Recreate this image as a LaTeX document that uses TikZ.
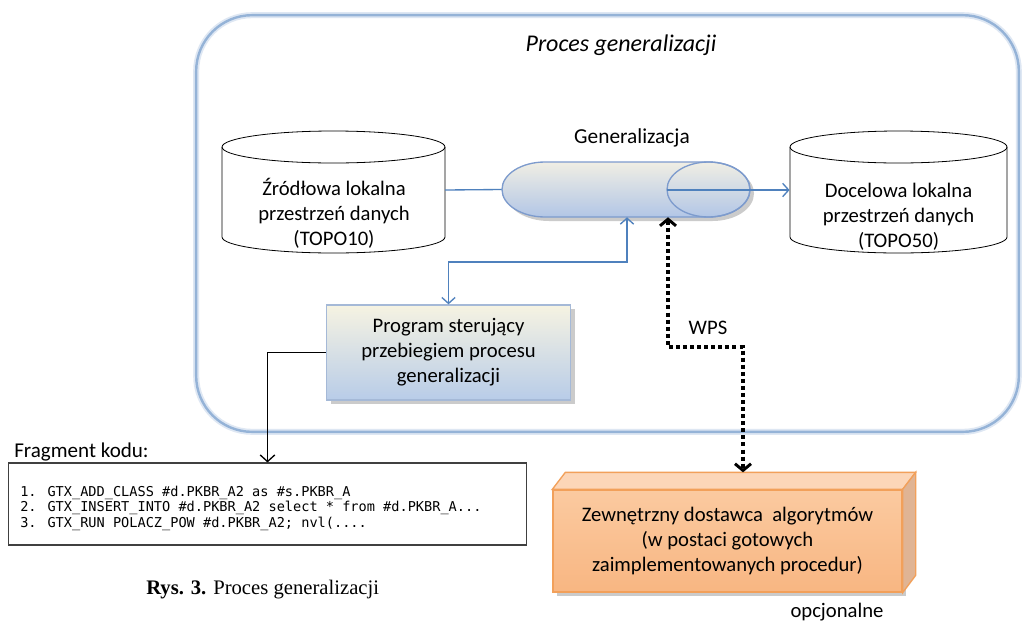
\documentclass[tikz,border=0pt]{standalone}
\usepackage{fontspec}
\setmainfont{Carlito}
\newfontfamily\codefont{DejaVu Sans Mono}
\newfontfamily\capfont{Liberation Serif}
\usetikzlibrary{arrows.meta,shadows,calc}

\definecolor{frameblue}{RGB}{149,179,215}
\definecolor{frameglow}{RGB}{222,231,243}
\definecolor{linkblue}{RGB}{79,129,189}
\definecolor{pipeedge}{RGB}{125,155,205}
\definecolor{pipetop}{RGB}{240,238,228}
\definecolor{pipebot}{RGB}{178,198,230}
\definecolor{progtop}{RGB}{246,243,226}
\definecolor{progbot}{RGB}{184,204,232}
\definecolor{progedge}{RGB}{165,185,215}
\definecolor{orangeedge}{RGB}{242,160,90}
\definecolor{orangefronttop}{RGB}{251,202,160}
\definecolor{orangefrontbot}{RGB}{248,182,130}
\definecolor{orangetop}{RGB}{252,214,184}
\definecolor{orangeside}{RGB}{224,180,148}

\tikzset{
  bodytext/.style={font=\fontsize{15.5}{18.75}\selectfont, align=center, inner sep=0pt},
  anchorbox/.style={draw=none, inner sep=0pt},
  cylline/.style={draw=black, line width=0.6pt},
  link/.style={draw=linkblue, line width=1pt},
  linktip/.tip={Straight Barb[length=4.5pt,width=10pt]},
  blacktip/.tip={Straight Barb[length=5pt,width=11pt]},
  blackline/.style={draw=black, line width=1pt},
  wpsline/.style={draw=black, line width=3pt, dash pattern=on 3pt off 2.3pt},
  wpstip/.tip={Straight Barb[length=5pt,width=12pt,line width=2.2pt]},
  softshadow/.style={drop shadow={shadow xshift=3pt, shadow yshift=-3pt, opacity=0.45, fill=black!45}},
}

\begin{document}
\begin{tikzpicture}[x=0.75pt,y=-0.75pt]
\useasboundingbox (0,0) rectangle (1022,622);
\fill[white] (0,0) rectangle (1022,622);

% container of the whole process
\node[draw=frameblue, line width=1.8pt, rounded corners=42pt,
      preaction={draw=frameglow, line width=4.5pt},
      minimum width=617pt, minimum height=312.5pt, inner sep=0pt]
      (proc) at (607.5,223.5) {};
\node[font=\fontsize{18}{21}\selectfont\itshape] (title) at (621,45) {Proces generalizacji};

% source data store
\draw[cylline] (222,147) -- (222,237) arc[start angle=180,end angle=0,x radius=111.5,y radius=16] -- (445,147);
\draw[cylline] (333.5,147) ellipse[x radius=111.5,y radius=16];
\node[anchorbox, minimum width=167pt, minimum height=67pt] (src) at (333.5,190) {};
\node[bodytext] (srctext) at (334,213) {Źródłowa lokalna\\przestrzeń danych\\(TOPO10)};

% target data store
\draw[cylline] (790,147) -- (790,237) arc[start angle=180,end angle=0,x radius=108.5,y radius=16] -- (1007,147);
\draw[cylline] (898.5,147) ellipse[x radius=108.5,y radius=16];
\node[anchorbox, minimum width=163pt, minimum height=67pt] (dst) at (898.5,190) {};
\node[bodytext] (dsttext) at (898.5,217) {Docelowa lokalna\\przestrzeń danych\\(TOPO50)};

% generalization pipe
\path[softshadow, draw=pipeedge, line width=1pt, top color=pipetop, bottom color=pipebot]
  (545,162) -- (708.5,162)
  arc[start angle=270,end angle=450,x radius=41.5,y radius=27.5]
  -- (545,217)
  arc[start angle=90,end angle=270,x radius=43,y radius=27.5] -- cycle;
\draw[pipeedge, line width=1pt] (708.5,189.5) ellipse[x radius=41.5,y radius=27.5];
\node[anchorbox, minimum width=186pt, minimum height=41.25pt] (gen) at (626,189.5) {};
\coordinate (genin) at (667,190);
\node[bodytext, font=\fontsize{16}{19}\selectfont] (gentitle) at (632,138) {Generalizacja};

\draw[link] (src.east) -- (gen.west);
\draw[link, -{linktip}] (genin) -- (dst.west);

% control program
\node[bodytext, softshadow, draw=progedge, line width=1pt,
      top color=progtop, bottom color=progbot,
      minimum width=183pt, minimum height=71.25pt]
      (prog) at (448.5,352.5) {Program sterujący\\przebiegiem procesu\\generalizacji};

\coordinate (bend) at (627,262);
\draw[link, {linktip}-{linktip}] (prog.north) |- (bend) -- (gen.south -| bend);

% code fragment
\node[font=\fontsize{15.8}{19}\selectfont, anchor=west, inner sep=0pt] (codetitle) at (14,452) {Fragment kodu:};
\node[draw=black!75, line width=0.8pt, minimum width=389pt, minimum height=61.5pt, inner sep=0pt]
      (code) at (267.5,504) {};
\node[anchor=west, inner sep=0pt, align=left, font=\codefont\fontsize{10.2}{11.6}\selectfont]
      (codetext) at (20,508)
      {1. GTX\_ADD\_CLASS \#d.PKBR\_A2 as \#s.PKBR\_A\\
       2. GTX\_INSERT\_INTO \#d.PKBR\_A2 select * from \#d.PKBR\_A...\\
       3. GTX\_RUN POLACZ\_POW \#d.PKBR\_A2; nvl(....};
\draw[blackline, -{blacktip}] (prog.west) -| (code.north);

% external algorithm provider
\node[bodytext, softshadow, draw=orangeedge, line width=1pt,
      top color=orangefronttop, bottom color=orangefrontbot,
      minimum width=261.75pt, minimum height=76.5pt]
      (ext) at (727.5,541) {Zewnętrzny dostawca~ algorytmów\\(w postaci gotowych\\zaimplementowanych procedur)};
\filldraw[fill=orangetop, draw=orangeedge, line width=1pt]
  (ext.north west) -- ++(13,-17) -- ($(ext.north east)+(13,-17)$) -- (ext.north east) -- cycle;
\filldraw[fill=orangeside, draw=orangeedge, line width=1pt]
  (ext.north east) -- ++(13,-17) -- ++(0,103) -- (ext.south east) -- cycle;
\coordinate (exttop) at ($(ext.north)+(0,-17)$);
\node[font=\fontsize{15.5}{18}\selectfont] (opt) at (837,612) {opcjonalne};

% WPS link
\coordinate (wpsa) at (668,347);
\coordinate (wpsb) at (743,347);
\draw[wpsline, {wpstip}-{wpstip}] (gen.south -| wpsa) -- (wpsa) -- (wpsb) -- (exttop -| wpsb);
\node[font=\fontsize{15.5}{18}\selectfont] (wps) at (708,328) {WPS};

% caption
\node[anchor=west, inner sep=0pt, font=\capfont\fontsize{15.5}{18}\selectfont] (caption) at (146,590)
  {\textbf{Rys. 3.} Proces generalizacji};
\end{tikzpicture}
\end{document}
